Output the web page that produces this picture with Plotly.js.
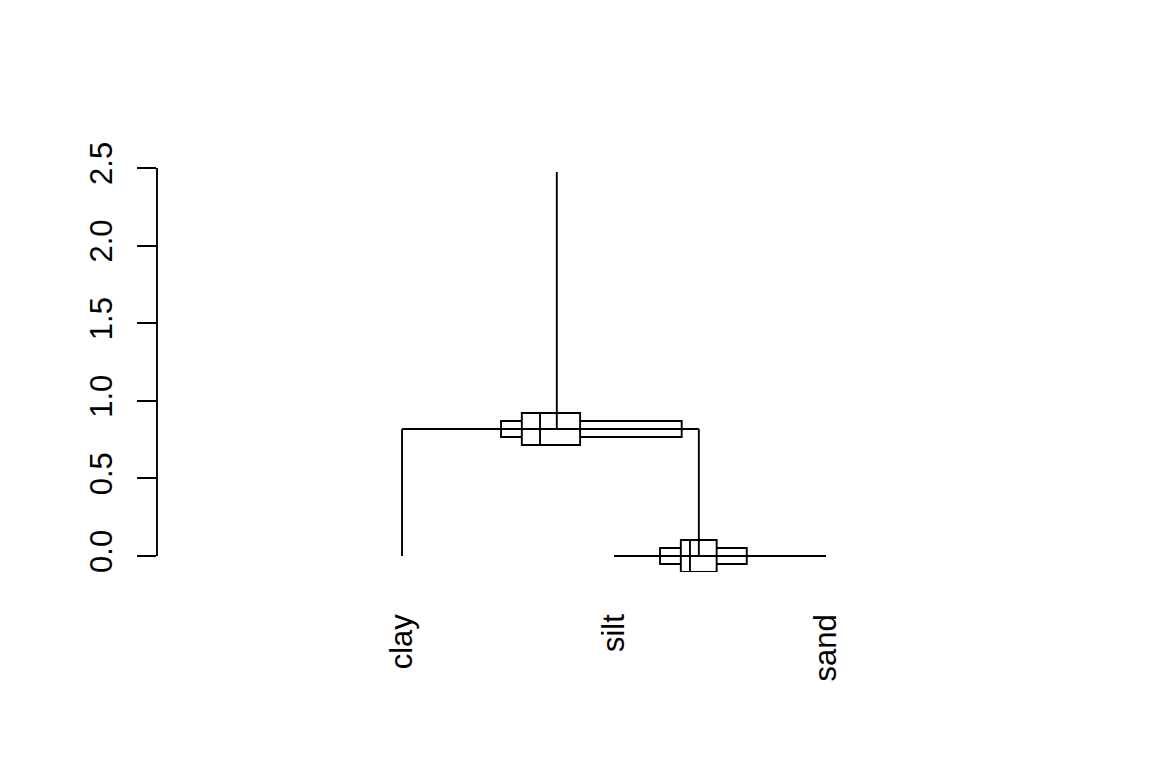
<!DOCTYPE html>
<html>
<head>
<meta charset="utf-8">
<script src="https://cdn.plot.ly/plotly-3.0.1.min.js"></script>
<style>html,body{margin:0;padding:0;background:#fff;}#chart{width:1152px;height:768px;}</style>
</head>
<body>
<div id="chart"></div>
<script>
// Leaves of the dendrogram
const leafLabels = ['clay', 'silt', 'sand'];
const leafX = [1, 2, 3];

// Internal nodes (merge order): height, x of left child, x of right child, x of node
const nodeHeight = [0.0, 0.818];
const nodeLeftX = [2, 1];
const nodeRightX = [3, 2.40];
const nodeX = [2.40, 1.730];
const rootTop = 2.474;

// Uncertainty of node position: outer range, inner quartiles, median
const outerLo = [2.217, 1.467];
const outerHi = [2.626, 2.319];
const innerLo = [2.315, 1.565];
const innerHi = [2.484, 1.840];
const medianX = [2.358, 1.651];

// Y axis ticks
const yTickVals = [0, 0.5, 1.0, 1.5, 2.0, 2.5];
const yTickText = ['0.0', '0.5', '1.0', '1.5', '2.0', '2.5'];

const LW = 1.9;
const line = {color: '#000', width: LW};
const shapes = [];

// boxes first
for (let i = 0; i < nodeHeight.length; i++) {
  shapes.push({type: 'rect', xref: 'x', yref: 'y', ysizemode: 'pixel', yanchor: nodeHeight[i],
    y0: -8, y1: 8, x0: outerLo[i], x1: outerHi[i], line: line, fillcolor: '#fff', layer: 'above'});
  shapes.push({type: 'rect', xref: 'x', yref: 'y', ysizemode: 'pixel', yanchor: nodeHeight[i],
    y0: -16, y1: 16, x0: innerLo[i], x1: innerHi[i], line: line, fillcolor: '#fff', layer: 'above'});
}
// dendrogram segments
for (let i = 0; i < nodeHeight.length; i++) {
  const h = nodeHeight[i];
  shapes.push({type: 'line', xref: 'x', yref: 'y', x0: nodeLeftX[i], x1: nodeRightX[i], y0: h, y1: h, line: line, layer: 'above'});
  const parentH = (i + 1 < nodeHeight.length) ? nodeHeight[i + 1] : rootTop;
  shapes.push({type: 'line', xref: 'x', yref: 'y', x0: nodeX[i], x1: nodeX[i], y0: h, y1: parentH, line: line, layer: 'above'});
}
// leaf stems (from 0 up to the merge that joins them)
for (let j = 0; j < leafX.length; j++) {
  let joinH = 0;
  for (let i = 0; i < nodeHeight.length; i++) {
    if (nodeLeftX[i] === leafX[j] || nodeRightX[i] === leafX[j]) { joinH = nodeHeight[i]; break; }
  }
  if (joinH > 0) shapes.push({type: 'line', xref: 'x', yref: 'y', x0: leafX[j], x1: leafX[j], y0: 0, y1: joinH, line: line, layer: 'above'});
}
// medians
for (let i = 0; i < nodeHeight.length; i++) {
  shapes.push({type: 'line', xref: 'x', yref: 'y', ysizemode: 'pixel', yanchor: nodeHeight[i],
    x0: medianX[i], x1: medianX[i], y0: -16, y1: 16, line: line, layer: 'above'});
}
// y axis line from first to last tick (R style)
shapes.push({type: 'line', xref: 'paper', yref: 'y', x0: 0, x1: 0, y0: yTickVals[0], y1: yTickVals[yTickVals.length - 1],
  line: line, layer: 'above'});

const font = {family: 'Liberation Sans, Arial, Helvetica, sans-serif', size: 31, color: '#000'};

const data = [{x: leafX, y: leafX.map(() => 0), type: 'scatter', mode: 'markers',
  marker: {opacity: 0}, hoverinfo: 'skip', showlegend: false}];

const layout = {
  width: 1152, height: 768,
  margin: {l: 157, r: 80, t: 157, b: 196, pad: 0},
  paper_bgcolor: '#fff', plot_bgcolor: '#fff',
  showlegend: false,
  font: font,
  xaxis: {range: [-0.1557, 4.160], tickmode: 'array', tickvals: leafX, ticktext: leafLabels,
    tickangle: -90, ticks: '', showline: false, zeroline: false, showgrid: false,
    ticklabelstandoff: 35, tickfont: font, fixedrange: true},
  yaxis: {range: [-0.1031, 2.571], tickmode: 'array', tickvals: yTickVals, ticktext: yTickText,
    tickangle: -90, ticks: 'outside', ticklen: 19, tickwidth: LW, tickcolor: '#000',
    showline: false, zeroline: false, showgrid: false, tickfont: font, ticklabelstandoff: 13, fixedrange: true},
  shapes: shapes
};

Plotly.newPlot('chart', data, layout, {displayModeBar: false, staticPlot: true});
</script>
</body>
</html>
